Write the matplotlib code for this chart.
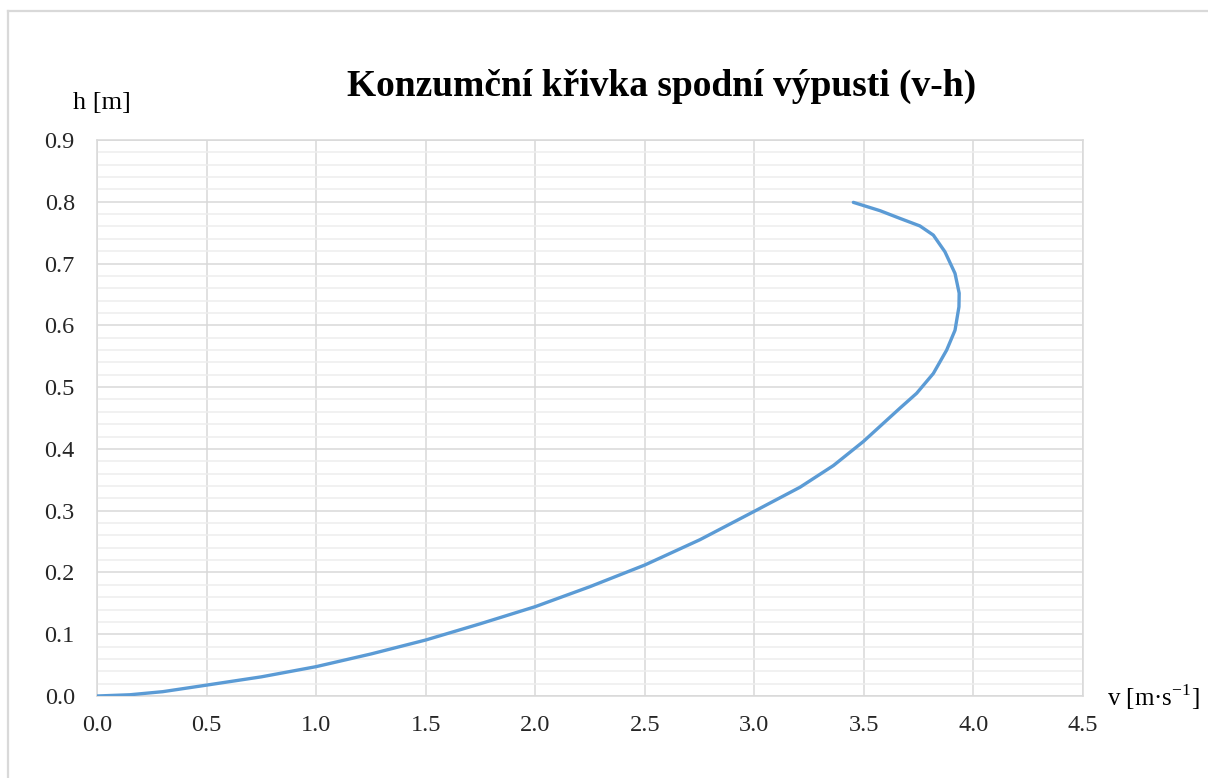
import matplotlib.pyplot as plt
from matplotlib.lines import Line2D
from matplotlib.ticker import MultipleLocator

plt.rcParams["font.family"] = ["Liberation Serif", "DejaVu Serif"]
plt.rcParams["mathtext.fontset"] = "custom"
plt.rcParams["mathtext.rm"] = "Liberation Serif"

# velocity v [m/s] and depth h [m]
v = [0.0, 0.15, 0.30, 0.47, 0.75, 1.0, 1.25, 1.5, 1.75, 2.0, 2.25, 2.5, 2.752,
     2.995, 3.209, 3.361, 3.498, 3.665, 3.741, 3.817, 3.878, 3.916, 3.934,
     3.935, 3.916, 3.870, 3.817, 3.756, 3.665, 3.574, 3.452]
h = [0.0, 0.002, 0.007, 0.016, 0.031, 0.0475, 0.068, 0.0906, 0.117, 0.1446,
     0.177, 0.212, 0.253, 0.298, 0.338, 0.373, 0.412, 0.466, 0.490, 0.522,
     0.560, 0.592, 0.630, 0.652, 0.684, 0.719, 0.746, 0.7608, 0.773, 0.7855,
     0.799]

title = "Konzumční křivka spodní výpusti (v-h)"
xlabel = r"v [m·s$^{\mathrm{-1}}$]"
ylabel = "h [m]"

fig = plt.figure(figsize=(12.08, 7.78), dpi=100)
ax = fig.add_axes([0.0803, 0.1054, 0.8162, 0.7147])

ax.plot(v, h, color="#5B9BD5", linewidth=2.4, solid_capstyle="round",
        solid_joinstyle="round", zorder=3)

ax.set_xlim(0, 4.5)
ax.set_ylim(0, 0.9)
ax.xaxis.set_major_locator(MultipleLocator(0.5))
ax.yaxis.set_major_locator(MultipleLocator(0.1))
ax.yaxis.set_minor_locator(MultipleLocator(0.02))
ax.xaxis.set_major_formatter(plt.FormatStrFormatter("%.1f"))
ax.yaxis.set_major_formatter(plt.FormatStrFormatter("%.1f"))

ax.grid(which="major", axis="both", color="#d9d9d9", linewidth=1.1)
ax.grid(which="minor", axis="y", color="#ededed", linewidth=1.1)
ax.set_axisbelow(True)
for side in ax.spines.values():
    side.set_color("#d9d9d9")
    side.set_linewidth(1.1)

ax.tick_params(axis="both", which="both", length=0, labelsize=17.5, colors="#262626")
ax.tick_params(axis="x", pad=14)
ax.tick_params(axis="y", pad=16)

fig.text(0.548, 0.889, title, ha="center", va="center", fontsize=27,
         fontweight="bold")
fig.text(0.084, 0.867, ylabel, ha="center", va="center", fontsize=19)
fig.text(0.9165, 0.104, xlabel, ha="left", va="center", fontsize=18)

# chart frame (only left and top edges are visible in the crop)
fig.add_artist(Line2D([8 / 1208, 8 / 1208], [0, 1 - 11 / 778],
                      transform=fig.transFigure, color="#d9d9d9", linewidth=1.6))
fig.add_artist(Line2D([8 / 1208, 1], [1 - 11 / 778, 1 - 11 / 778],
                      transform=fig.transFigure, color="#d9d9d9", linewidth=1.6))

fig.savefig("out.png", dpi=100)
